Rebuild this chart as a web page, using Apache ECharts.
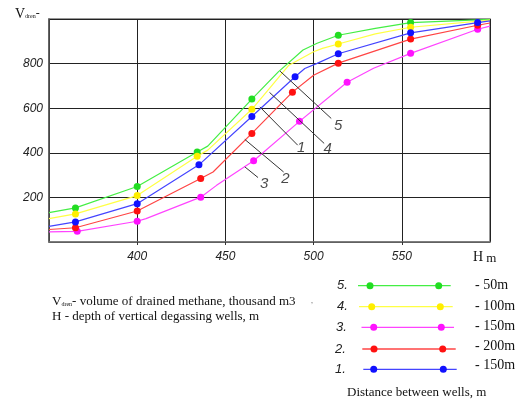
<!DOCTYPE html>
<html>
<head>
<meta charset="utf-8">
<script src="https://cdn.jsdelivr.net/npm/echarts@6/dist/echarts.min.js"></script>
<style>
  html, body { margin: 0; padding: 0; background: #fff; }
  #chart { width: 518px; height: 400px; }
</style>
</head>
<body>
<div id="chart"></div>
<script>
var chart = echarts.init(document.getElementById("chart"));

// curve 5 - 50m (green)
var hGreen = [350, 365, 400, 434, 440, 465, 480, 494, 502, 514, 535, 555, 600];
var vGreen = [132, 153, 249, 404, 430, 641, 763, 861, 891, 927, 958, 984, 998];
var mGreen = [0, 1, 1, 1, 0, 1, 0, 0, 0, 1, 0, 1, 0];
// curve 4 - 100m (yellow)
var hYellow = [350, 365, 400, 434, 440, 465, 475, 486, 500, 505, 514, 535, 555, 600];
var vYellow = [105, 126, 208, 385, 412, 595, 689, 793, 853, 868, 888, 933, 963, 995];
var mYellow = [0, 1, 1, 1, 0, 1, 0, 0, 0, 0, 1, 0, 1, 0];
// curve 3 - 150m (magenta)
var hMagenta = [350, 366, 400, 405, 436, 445, 466, 492, 519, 534, 555, 593, 600];
var vMagenta = [45, 48, 93, 105, 201, 254, 364, 541, 716, 779, 846, 954, 968];
var mMagenta = [0, 1, 1, 0, 1, 0, 1, 1, 1, 0, 1, 1, 0];
// curve 2 - 200m (red)
var hRed = [350, 365, 400, 436, 443, 465, 488, 500, 514, 555, 593, 600];
var vRed = [56, 64, 139, 285, 314, 487, 672, 748, 802, 910, 972, 982];
var mRed = [0, 1, 1, 1, 0, 1, 1, 0, 1, 1, 1, 0];
// curve 1 - 150m (blue)
var hBlue = [350, 365, 400, 435, 465, 489.5, 495, 502, 514, 555, 593, 600];
var vBlue = [70, 90, 172, 346, 563, 741, 778, 801, 844, 938, 984, 992];
var mBlue = [0, 1, 1, 1, 1, 1, 0, 0, 1, 1, 1, 0];

// leader lines with the curve numbers
var leaderNums = ['5', '4', '1', '2', '3'];
var leaderFrom = [[481, 766], [475, 671], [469.5, 606], [461, 460], [461, 337]];
var leaderTo = [[510, 554], [506, 442], [491, 434], [483, 314], [468.5, 289]];
var leaderText = [[514, 520], [508, 419], [493, 424], [484, 282], [472, 262]];

// legend
var legendNums = ['5.', '4.', '3.', '2.', '1.'];
var legendText = ['- 50m', '- 100m', '- 150m', '- 200m', '- 150m'];
var legendColors = ['#44ee44', '#ffff44', '#ff44ff', '#ff4444', '#4444ff'];
var dotColors = ['#22dd22', '#ffee00', '#ff11ff', '#ff1111', '#1111ff'];

function makeData(h, v, m) {
    var out = [];
    for (var i = 0; i < h.length; i++) {
        var it = { value: [h[i], v[i]] };
        if (!m[i]) it.symbol = 'none';
        out.push(it);
    }
    return out;
}

function curve(h, v, m, idx) {
    return {
        type: 'line',
        data: makeData(h, v, m),
        symbol: 'circle',
        symbolSize: 7,
        showAllSymbol: true,
        lineStyle: { color: legendColors[idx], width: 1.2 },
        itemStyle: { color: dotColors[idx] },
        z: 3,
        silent: true
    };
}

var series = [
    curve(hGreen, vGreen, mGreen, 0),
    curve(hYellow, vYellow, mYellow, 1),
    curve(hMagenta, vMagenta, mMagenta, 2),
    curve(hRed, vRed, mRed, 3),
    curve(hBlue, vBlue, mBlue, 4)
];

for (var i = 0; i < leaderNums.length; i++) {
    series.push({
        type: 'line',
        data: [leaderFrom[i], leaderTo[i]],
        symbol: 'none',
        lineStyle: { color: '#333', width: 1 },
        z: 4,
        silent: true
    });
}
series.push({
    type: 'scatter',
    data: leaderText.map(function (p, i) { return { value: p, name: leaderNums[i] }; }),
    symbolSize: 0,
    label: {
        show: true,
        position: 'inside',
        formatter: '{b}',
        fontFamily: 'Liberation Sans',
        fontStyle: 'italic',
        fontSize: 15,
        color: '#1a1a1a'
    },
    z: 5,
    silent: true
});

// legend graphics
var rowY = [285.7, 306.7, 327.3, 349, 369.3];
var lineX1 = [358, 359, 361.5, 362.3, 363.3];
var lineX2 = [450.7, 452.7, 454, 455.7, 456.7];
var dotX1 = [370, 371.7, 373.7, 374, 373.7];
var dotX2 = [438.7, 440.3, 441.3, 442.7, 443.3];
var numX = [337, 337, 336, 335, 335];
var textY = [285.7, 306, 326.7, 346, 365];

function txt(x, y, style) {
    style.verticalAlign = 'middle';
    return { type: 'text', x: x, y: y, style: style };
}

var graphic = [];
for (var j = 0; j < legendNums.length; j++) {
    graphic.push(txt(numX[j], rowY[j], { text: legendNums[j], font: 'italic 13px "Liberation Sans"', fill: '#222' }));
    graphic.push({
        type: 'line',
        shape: { x1: lineX1[j], y1: rowY[j], x2: lineX2[j], y2: rowY[j] },
        style: { stroke: legendColors[j], lineWidth: 1.3 }
    });
    graphic.push({ type: 'circle', shape: { cx: dotX1[j], cy: rowY[j], r: 3.5 }, style: { fill: dotColors[j] } });
    graphic.push({ type: 'circle', shape: { cx: dotX2[j], cy: rowY[j], r: 3.5 }, style: { fill: dotColors[j] } });
    graphic.push(txt(475, textY[j], { text: legendText[j], font: '14px "Liberation Serif"', fill: '#111' }));
}
graphic.push(txt(347, 393, { text: 'Distance between wells, m', font: '13px "Liberation Serif"', fill: '#111' }));
graphic.push(txt(52, 302, {
    text: '{v|V}{s|dren}{t|- volume of drained methane, thousand m3}',
    rich: {
        v: { font: '13px "Liberation Serif"', fill: '#111' },
        s: { font: '6px "Liberation Serif"', fill: '#111', padding: [4, 0, 0, 0] },
        t: { font: '13px "Liberation Serif"', fill: '#111' }
    }
}));
graphic.push(txt(52, 316.5, { text: 'H - depth of vertical degassing wells, m', font: '13px "Liberation Serif"', fill: '#111' }));
graphic.push(txt(311, 301, { text: ',', font: '8px "Liberation Serif"', fill: '#666' }));
graphic.push(txt(15, 14, {
    text: '{v|V}{s|dren}{t|-}',
    rich: {
        v: { font: '14px "Liberation Serif"', fill: '#111' },
        s: { font: '6px "Liberation Serif"', fill: '#111', padding: [4, 0, 0, 0] },
        t: { font: '12px "Liberation Serif"', fill: '#111' }
    }
}));
graphic.push(txt(473, 257, {
    text: '{h|H}{m| m}',
    rich: {
        h: { font: '14px "Liberation Serif"', fill: '#111' },
        m: { font: '13px "Liberation Serif"', fill: '#111', padding: [4, 0, 0, 0] }
    }
}));

var option = {
    animation: false,
    grid: { left: 49, top: 19, right: 28, bottom: 158, show: true, borderColor: '#777', borderWidth: 1.5 },
    xAxis: {
        type: 'value', min: 350, max: 600, interval: 50,
        axisLine: { show: true, lineStyle: { color: '#777', width: 1.5 } },
        axisTick: { show: true, length: 3, lineStyle: { color: '#333' } },
        axisLabel: {
            showMinLabel: false, showMaxLabel: false, margin: 9,
            fontFamily: 'Liberation Sans', fontStyle: 'italic', fontSize: 12, color: '#222'
        },
        splitLine: { show: true, lineStyle: { color: '#222', width: 1 } }
    },
    yAxis: {
        type: 'value', min: 0, max: 1000, interval: 200,
        axisLine: { show: true, lineStyle: { color: '#555', width: 1.5 } },
        axisTick: { show: false },
        axisLabel: {
            showMinLabel: false, showMaxLabel: false, margin: 6,
            fontFamily: 'Liberation Sans', fontStyle: 'italic', fontSize: 12, color: '#222'
        },
        splitLine: { show: true, lineStyle: { color: '#222', width: 1 } }
    },
    graphic: graphic,
    series: series
};

chart.setOption(option, true);
</script>
</body>
</html>
